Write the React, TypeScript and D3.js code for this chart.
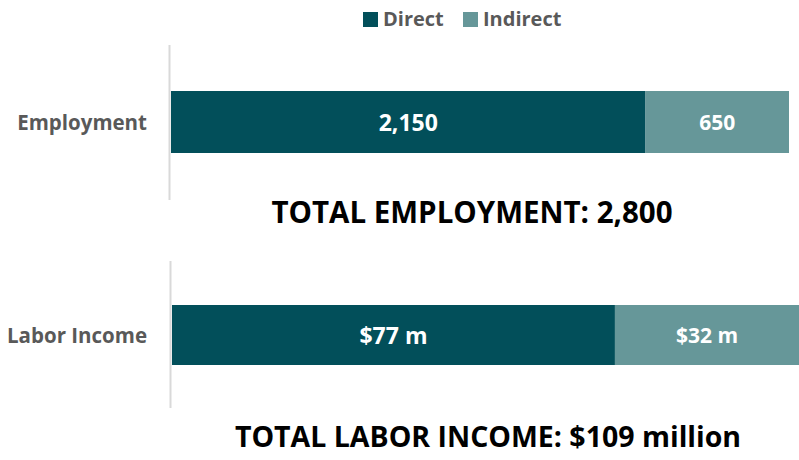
import React from "react";
import * as d3 from "d3";

const series = ["Direct", "Indirect"];
const colors = ["#024F5A", "#669799"];
const employmentValues = [2150, 650];
const employmentLabels = ["2,150", "650"];
const incomeValues = [77, 32];
const incomeLabels = ["$77 m", "$32 m"];
const categories = ["Employment", "Labor Income"];
const totals = ["TOTAL EMPLOYMENT: 2,800", "TOTAL LABOR INCOME: $109 million"];

const FONT = "'Open Sans', sans-serif";

type PanelProps = {
  values: number[];
  labels: string[];
  category: string;
  total: string;
  range: [number, number];
  axisY: [number, number];
  barY: number;
  barH: number;
  totalX: number;
  totalY: number;
  totalSize: number;
  labelSizes: number[];
};

function Panel(p: PanelProps) {
  const sum = d3.sum(p.values);
  const x = d3.scaleLinear().domain([0, sum]).range(p.range);
  const stacks = d3.cumsum(p.values);
  const starts = [0, ...Array.from(stacks).slice(0, -1)];
  return (
    <g>
      <line x1={p.range[0] - 1.5} x2={p.range[0] - 1.5} y1={p.axisY[0]} y2={p.axisY[1]} stroke="#D9D9D9" strokeWidth={2} />
      <text x={147} y={p.barY + p.barH / 2} textAnchor="end" dominantBaseline="central" fontFamily={FONT} fontWeight={700} fontSize={20.5} fill="#595959">
        {p.category}
      </text>
      {p.values.map((v, i) => {
        const x0 = x(starts[i]);
        const x1 = x(starts[i] + v);
        return (
          <g key={i}>
            <rect x={x0} y={p.barY} width={x1 - x0} height={p.barH} fill={colors[i]} />
            <text x={(x0 + x1) / 2} y={p.barY + p.barH / 2} textAnchor="middle" dominantBaseline="central" fontFamily={FONT} fontWeight={700} fontSize={p.labelSizes[i]} fill="#FFFFFF">
              {p.labels[i]}
            </text>
          </g>
        );
      })}
      <text x={p.totalX} y={p.totalY} textAnchor="middle" dominantBaseline="central" fontFamily={FONT} fontWeight={700} fontSize={p.totalSize} fill="#000000">
        {p.total}
      </text>
    </g>
  );
}

export default function App() {
  return (
    <svg width={799} height={460} style={{ position: "absolute", left: 0, top: 0, background: "#fff" }}>
      {series.map((s, i) => {
        const lx = [363, 463][i];
        return (
          <g key={s}>
            <rect x={lx} y={12} width={15} height={15} fill={colors[i]} />
            <text x={lx + 20} y={18.5} dominantBaseline="central" fontFamily={FONT} fontWeight={700} fontSize={20} fill="#595959">
              {s}
            </text>
          </g>
        );
      })}
      <Panel
        values={employmentValues}
        labels={employmentLabels}
        category={categories[0]}
        total={totals[0]}
        range={[171, 789]}
        axisY={[45, 200]}
        barY={91}
        barH={62}
        totalX={472}
        totalY={211}
        totalSize={29.5}
        labelSizes={[23, 21]}
      />
      <Panel
        values={incomeValues}
        labels={incomeLabels}
        category={categories[1]}
        total={totals[1]}
        range={[172, 799]}
        axisY={[261, 408]}
        barY={305}
        barH={60}
        totalX={488}
        totalY={436}
        totalSize={28.5}
        labelSizes={[23, 21]}
      />
    </svg>
  );
}
